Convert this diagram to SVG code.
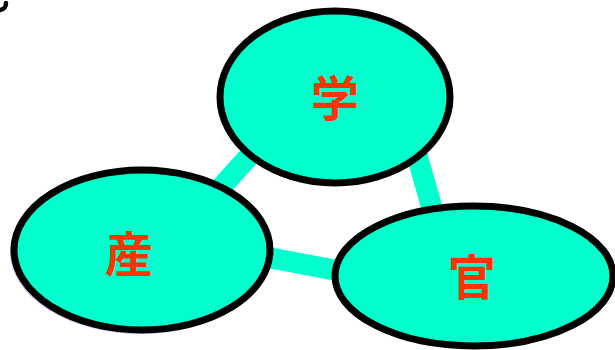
<svg xmlns="http://www.w3.org/2000/svg" width="615" height="350" viewBox="0 0 615 350">
<style>
.node{fill:#00FFCC;stroke:#000;stroke-width:7}
.shadow{fill:#c8c8f0}
.lbl{font-family:"Noto Sans CJK JP","Noto Sans CJK SC",sans-serif;font-weight:bold;font-size:48px;fill:#FF3300;text-anchor:middle;dominant-baseline:central}
.bar{stroke:#00FFCC;stroke-width:21;fill:none}
</style>
<rect width="615" height="350" fill="#fff"/>
<path d="M6 3 C6 7 5 9 0 10" stroke="#000" stroke-width="4.5" fill="none" stroke-linecap="round"/>
<g id="connectors">
<line class="bar" x1="205" y1="205" x2="262" y2="142"/>
<line class="bar" x1="414" y1="145" x2="436" y2="222"/>
<line class="bar" x1="255" y1="255" x2="350" y2="273"/>
</g>
<g id="node-gaku">
<ellipse class="node" cx="335" cy="97" rx="115" ry="86"/>
<text class="lbl" x="335" y="95">学</text>
</g>
<g id="node-san">
<ellipse class="shadow" cx="141" cy="252" rx="131" ry="82"/>
<ellipse class="node" cx="142" cy="250" rx="128" ry="80"/>
<text class="lbl" x="129" y="251">産</text>
</g>
<g id="node-kan">
<ellipse class="node" cx="474" cy="276" rx="139" ry="70"/>
<text class="lbl" x="472" y="274">官</text>
</g>
</svg>
